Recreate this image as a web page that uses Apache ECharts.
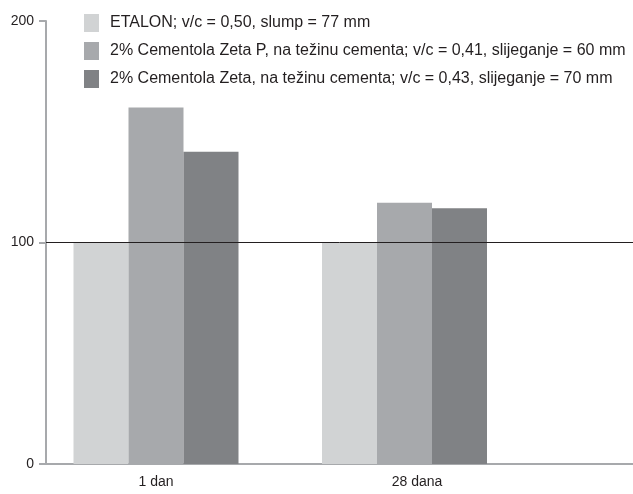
<!DOCTYPE html>
<html><head><meta charset="utf-8">
<script src="https://cdn.jsdelivr.net/npm/echarts@6/dist/echarts.min.js"></script>
<style>html,body{margin:0;padding:0;background:#fff}#c{width:633px;height:494px}</style>
</head><body><div id="c"></div>
<script>
const categories = ['1 dan', '28 dana'];
const seriesNames = [
  'ETALON; v/c = 0,50, slump = 77 mm',
  '2% Cementola Zeta P, na težinu cementa; v/c = 0,41, slijeganje = 60 mm',
  '2% Cementola Zeta, na težinu cementa; v/c = 0,43, slijeganje = 70 mm'
];
const etalon = [100, 100];
const zetaP = [161, 118];
const zeta = [141, 115.5];
const yTicks = [0, 100, 200];
const referenceLevel = 100;

const colors = ['#d1d3d4', '#a7a9ac', '#808285'];
const font = 'Liberation Sans, Arial, sans-serif';
const txt = '#231f20';

const chart = echarts.init(document.getElementById('c'), null, {renderer: 'canvas'});
const values = [etalon, zetaP, zeta];
chart.setOption({
  animation: false,
  textStyle: {fontFamily: font},
  legend: {
    orient: 'vertical', left: 84, top: 14, padding: 0,
    itemWidth: 15, itemHeight: 18, itemGap: 10,
    icon: 'rect', textStyle: {fontSize: 16, color: txt, fontFamily: font, padding: [0, 0, 0, 6]},
    data: seriesNames
  },
  grid: [
    {left: 31.75, right: 104.25, top: 21, bottom: 30},
    {left: 46, right: 0, top: 21, bottom: 30}
  ],
  xAxis: [
    {type: 'category', gridIndex: 0, data: categories,
     axisLine: {show: false}, axisTick: {show: false},
     axisLabel: {margin: 11, fontSize: 14, color: txt, fontFamily: font,
       formatter: (v, i) => i === 1 ? '{b|' + v + '}' : '{a|' + v + '}',
       rich: {a: {fontSize: 14, color: txt, fontFamily: font},
              b: {fontSize: 14, color: txt, fontFamily: font, padding: [0, 0, 0, 25]}}}},
    {type: 'value', gridIndex: 1, min: 0, max: 1, show: true,
     axisLine: {show: true, onZero: false, lineStyle: {color: '#a7a9ac', width: 2}},
     axisTick: {show: false}, axisLabel: {show: false}, splitLine: {show: false}}
  ],
  yAxis: [
    {type: 'value', gridIndex: 0, min: 0, max: 200, show: false},
    {type: 'value', gridIndex: 1, min: 0, max: 200, interval: 100,
     axisLine: {show: true, lineStyle: {color: '#a7a9ac', width: 2}},
     axisTick: {show: true, length: 7, lineStyle: {color: '#a7a9ac', width: 2}},
     axisLabel: {margin: 12, fontSize: 14, color: txt, fontFamily: font,
       formatter: v => yTicks.includes(v) ? String(v) : ''},
     splitLine: {show: false}}
  ],
  series: [
    ...seriesNames.map((n, k) => ({
      name: n, type: 'bar', xAxisIndex: 0, yAxisIndex: 0, z: 3,
      barWidth: 55, barGap: '0%', itemStyle: {color: colors[k]},
      data: values[k]
    })),
    {type: 'line', xAxisIndex: 1, yAxisIndex: 1, z: 1, data: [], silent: true,
     markLine: {silent: true, symbol: 'none', label: {show: false},
       lineStyle: {color: '#231f20', width: 1, type: 'solid'},
       data: [{yAxis: referenceLevel}]}}
  ]
});
</script></body></html>
